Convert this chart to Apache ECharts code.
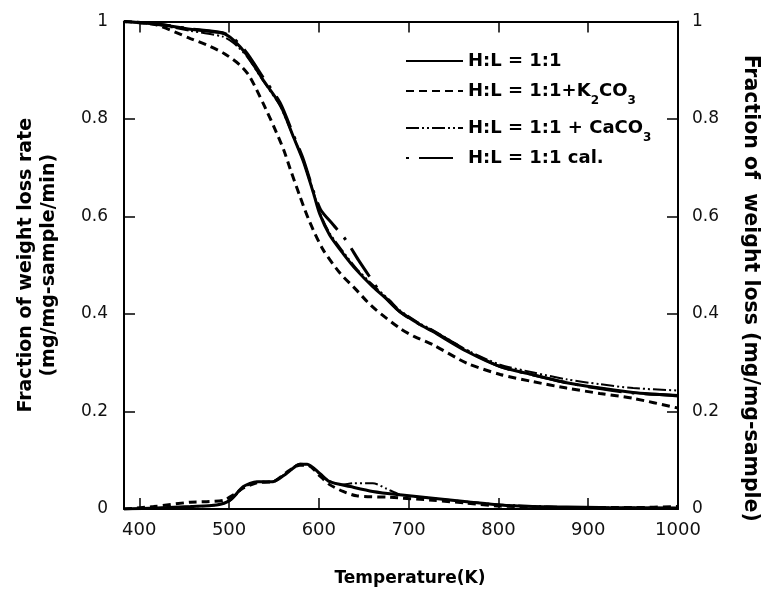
<!DOCTYPE html>
<html>
<head>
<meta charset="utf-8">
<script src="https://cdn.jsdelivr.net/npm/echarts@6/dist/echarts.min.js"></script>
<style>
html,body{margin:0;padding:0;background:#fff;}
#chart{width:766px;height:594px;}
</style>
</head>
<body>
<div id="chart"></div>
<script>
// ---- data ----
var xTicks = [400, 500, 600, 700, 800, 900, 1000];
var seriesNames = ['H:L = 1:1', 'H:L = 1:1+K2CO3', 'H:L = 1:1 + CaCO3', 'H:L = 1:1 cal.'];

// weight loss (TG) curves
var tgHLTemp = [383, 420, 457, 493, 505, 520, 538, 557, 572, 583, 594, 601, 612, 627, 642, 660, 679, 690, 713, 727, 765, 802, 839, 876, 913, 950, 1000];
var tgHLVal  = [1.0, 0.995, 0.984, 0.976, 0.962, 0.931, 0.88, 0.829, 0.762, 0.712, 0.648, 0.605, 0.562, 0.524, 0.49, 0.456, 0.425, 0.405, 0.378, 0.364, 0.323, 0.292, 0.275, 0.259, 0.248, 0.239, 0.232];

var tgK2Temp = [383, 419, 457, 475, 494, 512, 523, 538, 550, 561, 568, 579, 590, 605, 624, 642, 654, 664, 690, 706, 727, 765, 802, 839, 876, 913, 950, 1000];
var tgK2Val  = [1.0, 0.993, 0.965, 0.952, 0.935, 0.911, 0.887, 0.832, 0.784, 0.736, 0.698, 0.641, 0.588, 0.531, 0.483, 0.449, 0.425, 0.408, 0.371, 0.354, 0.337, 0.299, 0.276, 0.261, 0.248, 0.237, 0.227, 0.207];

var tgCaTemp = [383, 420, 457, 493, 505, 520, 538, 557, 572, 583, 594, 601, 612, 627, 642, 660, 679, 690, 713, 727, 765, 802, 839, 876, 913, 950, 1000];
var tgCaVal  = [1.0, 0.993, 0.981, 0.969, 0.956, 0.928, 0.878, 0.826, 0.762, 0.713, 0.65, 0.608, 0.566, 0.528, 0.493, 0.46, 0.428, 0.408, 0.38, 0.367, 0.326, 0.296, 0.28, 0.266, 0.256, 0.248, 0.243];

var tgCalTemp = [383, 420, 457, 493, 505, 520, 538, 557, 572, 583, 594, 602, 616, 630, 644, 656, 668, 690, 713, 727, 765, 802, 839, 876, 913, 950, 1000];
var tgCalVal  = [1.0, 0.995, 0.985, 0.977, 0.965, 0.935, 0.885, 0.833, 0.766, 0.716, 0.652, 0.614, 0.583, 0.552, 0.511, 0.478, 0.446, 0.405, 0.378, 0.365, 0.325, 0.292, 0.275, 0.259, 0.247, 0.238, 0.233];

// weight loss rate (DTG) curves
var dtgHLTemp = [383, 420, 457, 486, 501, 516, 531, 549, 564, 579, 587, 601, 612, 635, 660, 690, 727, 765, 802, 839, 876, 913, 1000];
var dtgHLVal  = [0, 0.002, 0.005, 0.008, 0.018, 0.046, 0.056, 0.056, 0.073, 0.092, 0.092, 0.073, 0.056, 0.046, 0.036, 0.029, 0.022, 0.015, 0.008, 0.005, 0.004, 0.003, 0.002];

var dtgK2Temp = [383, 416, 457, 475, 494, 505, 516, 531, 549, 564, 579, 590, 601, 612, 627, 642, 679, 727, 765, 802, 876, 950, 1000];
var dtgK2Val  = [0, 0.005, 0.014, 0.015, 0.018, 0.029, 0.043, 0.054, 0.056, 0.075, 0.09, 0.088, 0.068, 0.05, 0.036, 0.027, 0.024, 0.018, 0.012, 0.006, 0.003, 0.003, 0.005];

var dtgCaTemp = [383, 420, 457, 486, 501, 516, 531, 549, 564, 579, 587, 601, 612, 625, 639, 660, 675, 690, 727, 765, 802, 839, 876, 913, 1000];
var dtgCaVal  = [0, 0.002, 0.005, 0.008, 0.017, 0.044, 0.055, 0.057, 0.074, 0.093, 0.091, 0.072, 0.057, 0.05, 0.053, 0.053, 0.042, 0.03, 0.022, 0.015, 0.009, 0.006, 0.004, 0.003, 0.002];

function zip(xs, ys) { return xs.map(function (x, i) { return [x, ys[i]]; }); }

var FONT = 'DejaVu Sans';
var styleSolid = { color: '#000', width: 3, type: 'solid' };
var styleDash  = { color: '#000', width: 3, type: [8, 5] };
var styleDDot  = { color: '#000', width: 2, type: [13, 3, 2, 3, 2, 3] };
var styleCal   = { color: '#000', width: 3, type: [3, 10, 34, 10] };

function line(name, data, style, yIdx, z) {
  return {
    name: name, type: 'line', data: data, xAxisIndex: 0, yAxisIndex: yIdx,
    showSymbol: false, symbol: 'none', smooth: 0.25,
    lineStyle: style, itemStyle: { color: '#000' }, z: z, silent: true
  };
}

var legendLabels = {
  'H:L = 1:1': '{m|H:L = 1:1}',
  'H:L = 1:1+K2CO3': '{m|H:L = 1:1+K}{s|2}{m|CO}{s|3}',
  'H:L = 1:1 + CaCO3': '{m|H:L = 1:1 + CaCO}{s|3}',
  'H:L = 1:1 cal.': '{m|H:L = 1:1 cal.}'
};

var axisTextColor = '#111';
function plainNum(v) { return String(v); }

var option = {
  animation: false,
  backgroundColor: '#fff',
  grid: { left: 124, right: 88, top: 21.5, bottom: 85, containLabel: false, outerBoundsMode: 'none' },
  legend: {
    data: seriesNames,
    orient: 'vertical',
    left: 405, top: 52, padding: 0,
    itemWidth: 57, itemHeight: 14, itemGap: 5,
    itemStyle: { opacity: 0, color: 'rgba(0,0,0,0)', borderWidth: 0 },
    formatter: function (n) { return legendLabels[n]; },
    textStyle: {
      color: '#000',
      rich: {
        m: { fontFamily: FONT, fontWeight: 'bold', fontSize: 18, lineHeight: 22, color: '#000', verticalAlign: 'middle' },
        s: { fontFamily: FONT, fontWeight: 'bold', fontSize: 12, lineHeight: 12, padding: [20, 0, 0, 0], color: '#000', verticalAlign: 'middle' }
      }
    },
    selectedMode: false
  },
  xAxis: [{
    type: 'value', position: 'bottom', min: 383, max: 1000,
    name: 'Temperature(K)', nameLocation: 'middle', nameGap: 60,
    nameTextStyle: { fontFamily: FONT, fontWeight: 'bold', fontSize: 17, color: '#000', padding: [0, 0, 0, 18], lineHeight: 20 },
    axisLine: { show: true, onZero: false, lineStyle: { color: '#000', width: 2 } },
    axisTick: { show: true, inside: true, length: 11, customValues: xTicks, lineStyle: { color: '#000', width: 1.5 } },
    axisLabel: { show: true, customValues: xTicks, formatter: plainNum, margin: 12, fontFamily: FONT, fontSize: 18, color: axisTextColor },
    splitLine: { show: false }
  }, {
    type: 'value', position: 'top', min: 383, max: 1000,
    axisLine: { show: true, onZero: false, lineStyle: { color: '#000', width: 2 } },
    axisTick: { show: true, inside: true, length: 11, customValues: xTicks, lineStyle: { color: '#000', width: 1.5 } },
    axisLabel: { show: false },
    splitLine: { show: false }
  }],
  yAxis: [{
    type: 'value', position: 'left', min: 0, max: 1, interval: 0.2,
    name: 'Fraction of weight loss rate\n(mg/mg-sample/min)', nameLocation: 'middle', nameGap: 63,
    nameTextStyle: { fontFamily: FONT, fontWeight: 'bold', fontSize: 19, color: '#000', lineHeight: 23 },
    axisLine: { show: true, onZero: false, lineStyle: { color: '#000', width: 2 } },
    axisTick: { show: true, inside: true, length: 11, lineStyle: { color: '#000', width: 1.5 } },
    axisLabel: { margin: 16, formatter: plainNum, fontFamily: FONT, fontSize: 17, color: axisTextColor },
    splitLine: { show: false }
  }, {
    type: 'value', position: 'right', min: 0, max: 1, interval: 0.2,
    name: 'Fraction of  weight loss (mg/mg-sample)', nameLocation: 'middle', nameGap: 62, nameRotate: -90,
    nameTextStyle: { fontFamily: FONT, fontWeight: 'bold', fontSize: 20.5, color: '#000', padding: [0, 0, 0, 46] },
    axisLine: { show: true, onZero: false, lineStyle: { color: '#000', width: 2 } },
    axisTick: { show: true, inside: true, length: 11, lineStyle: { color: '#000', width: 1.5 } },
    axisLabel: { margin: 14, formatter: plainNum, fontFamily: FONT, fontSize: 17, color: axisTextColor },
    splitLine: { show: false }
  }],
  series: [
    line(seriesNames[0], zip(tgHLTemp, tgHLVal), styleSolid, 1, 4),
    line(seriesNames[1], zip(tgK2Temp, tgK2Val), styleDash, 1, 3),
    line(seriesNames[2], zip(tgCaTemp, tgCaVal), styleDDot, 1, 2),
    line(seriesNames[3], zip(tgCalTemp, tgCalVal), styleCal, 1, 5),
    line(seriesNames[0], zip(dtgHLTemp, dtgHLVal), styleSolid, 0, 4),
    line(seriesNames[1], zip(dtgK2Temp, dtgK2Val), styleDash, 0, 3),
    line(seriesNames[2], zip(dtgCaTemp, dtgCaVal), styleDDot, 0, 2)
  ]
};

var chart = echarts.init(document.getElementById('chart'), null, { renderer: 'canvas' });
chart.setOption(option);
</script>
</body>
</html>
